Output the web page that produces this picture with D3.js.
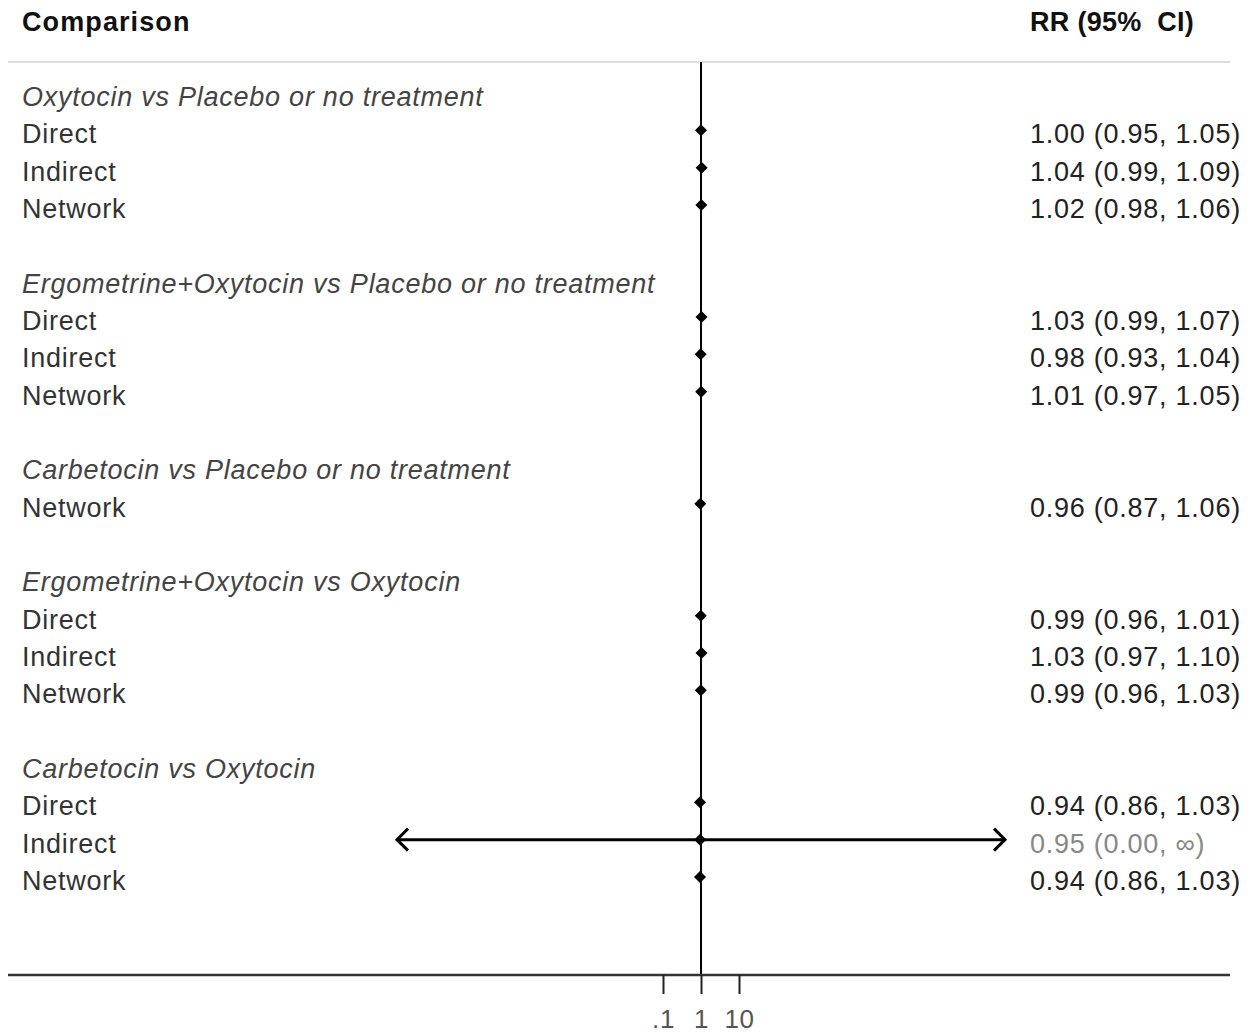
<!DOCTYPE html>
<html><head><meta charset="utf-8">
<script src="https://cdn.jsdelivr.net/npm/d3@7"></script>
<style>body{margin:0;background:#fff}svg{display:block}text{font-family:"Liberation Sans",Arial,sans-serif}</style>
</head><body>
<script>
// ---- data ----
const groups = ["Oxytocin vs Placebo or no treatment","Ergometrine+Oxytocin vs Placebo or no treatment","Carbetocin vs Placebo or no treatment","Ergometrine+Oxytocin vs Oxytocin","Carbetocin vs Oxytocin"];
const rowGroup = [0,0,0,1,1,1,2,3,3,3,4,4,4];
const rowLabels = ["Direct","Indirect","Network","Direct","Indirect","Network","Network","Direct","Indirect","Network","Direct","Indirect","Network"];
const rr  = [1.00,1.04,1.02,1.03,0.98,1.01,0.96,0.99,1.03,0.99,0.94,0.95,0.94];
const lo  = [0.95,0.99,0.98,0.99,0.93,0.97,0.87,0.96,0.97,0.96,0.86,0.00,0.86];
const hi  = [1.05,1.09,1.06,1.07,1.04,1.05,1.06,1.01,1.10,1.03,1.03,Infinity,1.03];
const rrText = ["1.00 (0.95, 1.05)","1.04 (0.99, 1.09)","1.02 (0.98, 1.06)","1.03 (0.99, 1.07)","0.98 (0.93, 1.04)","1.01 (0.97, 1.05)","0.96 (0.87, 1.06)","0.99 (0.96, 1.01)","1.03 (0.97, 1.10)","0.99 (0.96, 1.03)","0.94 (0.86, 1.03)","0.95 (0.00, \u221e)","0.94 (0.86, 1.03)"];
const tickValues = [0.1,1,10];
const tickLabels = [".1","1","10"];
const clipLimits = [1e-8, 1e8];

// ---- layout ----
const W=1250,H=1034;
const svg=d3.select("body").append("svg").attr("width",W).attr("height",H);
const x=d3.scaleLog().domain([0.1,10]).range([663,739]);
const rows=[];
let prev=-1;
rowLabels.forEach((l,i)=>{
  if(rowGroup[i]!==prev){ if(prev!==-1) rows.push({type:"blank"}); rows.push({type:"group",text:groups[rowGroup[i]]}); prev=rowGroup[i]; }
  rows.push({type:"item",i});
});
const y=d3.scaleLinear().domain([0,rows.length-1]).range([97,881]);
const fs=27, ls=0.75;

svg.append("text").attr("x",22).attr("y",22).attr("dominant-baseline","central").attr("font-size",fs).attr("font-weight","bold").attr("letter-spacing",1.1).attr("fill","#111").text("Comparison");
svg.append("text").attr("x",1030).attr("y",22).attr("dominant-baseline","central").attr("font-size",fs).attr("font-weight","bold").attr("letter-spacing",0.3).attr("fill","#111").attr("xml:space","preserve").style("white-space","pre").text("RR (95%  CI)");
svg.append("line").attr("x1",8).attr("x2",1230).attr("y1",62).attr("y2",62).attr("stroke","#ddd").attr("stroke-width",2);

svg.append("line").attr("x1",x(1)).attr("x2",x(1)).attr("y1",62).attr("y2",975).attr("stroke","#000").attr("stroke-width",2);

const axisG=svg.append("g").attr("transform","translate(0,975)");
axisG.append("line").attr("x1",8).attr("x2",1230).attr("stroke","#333").attr("stroke-width",2.5);
const ax=d3.axisBottom(x).tickValues(tickValues).tickSize(19).tickPadding(16).tickFormat((d,i)=>tickLabels[i]);
axisG.call(ax);
axisG.select(".domain").remove();
axisG.selectAll(".tick line").attr("stroke","#222").attr("stroke-width",2);
axisG.selectAll(".tick text").attr("font-size",26).attr("fill","#555").attr("letter-spacing",0.6).attr("font-family","Liberation Sans, Arial, sans-serif");

const clip=v=>Math.max(clipLimits[0],Math.min(clipLimits[1],v));
rows.forEach((r,k)=>{
  const yy=y(k);
  if(r.type==="group"){
    svg.append("text").attr("x",22).attr("y",yy).attr("dominant-baseline","central").attr("font-size",fs).attr("letter-spacing",ls).attr("font-style","italic").attr("fill","#444").text(r.text);
  } else if(r.type==="item"){
    const i=r.i;
    svg.append("text").attr("x",22).attr("y",yy).attr("dominant-baseline","central").attr("font-size",fs).attr("letter-spacing",ls).attr("fill","#333").text(rowLabels[i]);
    const inf = !isFinite(hi[i]) || lo[i]<=0;
    svg.append("text").attr("x",1030).attr("y",yy).attr("dominant-baseline","central").attr("font-size",fs).attr("letter-spacing",ls).attr("fill",inf?"#888":"#222").text(rrText[i]);
    const my=yy-4;
    const x1=x(clip(Math.max(lo[i],1e-300))), x2=x(clip(hi[i]));
    svg.append("line").attr("x1",x1).attr("x2",x2).attr("y1",my).attr("y2",my).attr("stroke","#000").attr("stroke-width",inf?3:2);
    if(inf){
      const a=11;
      svg.append("path").attr("d",`M${x1+a},${my-a}L${x1},${my}L${x1+a},${my+a}`).attr("fill","none").attr("stroke","#000").attr("stroke-width",3);
      svg.append("path").attr("d",`M${x2-a},${my-a}L${x2},${my}L${x2-a},${my+a}`).attr("fill","none").attr("stroke","#000").attr("stroke-width",3);
    }
    const cx=x(rr[i]), d=6;
    svg.append("path").attr("d",`M${cx-d},${my}L${cx},${my-d}L${cx+d},${my}L${cx},${my+d}Z`).attr("fill","#000");
  }
});
</script>
</body></html>
